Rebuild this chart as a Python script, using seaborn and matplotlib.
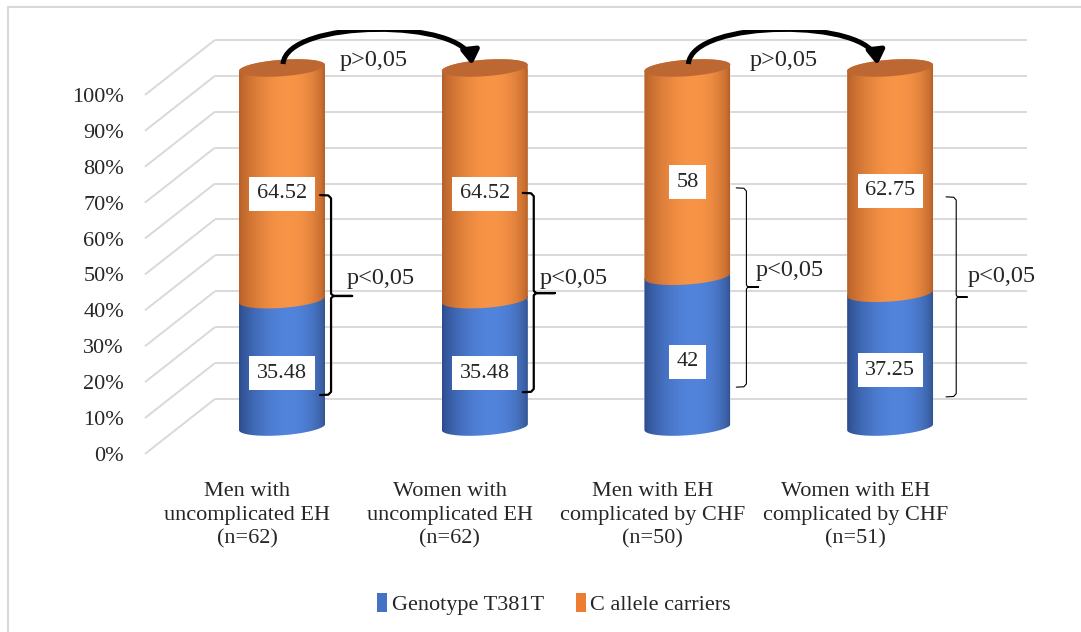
import numpy as np
import pandas as pd
import matplotlib
matplotlib.use("Agg")
import matplotlib.pyplot as plt
import matplotlib.transforms as mtransforms
from matplotlib.patches import Polygon, FancyArrowPatch, Rectangle, Patch
from matplotlib.path import Path
import seaborn as sns

# ---- data -------------------------------------------------------------
groups = [
    "Men with\nuncomplicated EH\n(n=62)",
    "Women with\nuncomplicated EH\n(n=62)",
    "Men with EH\ncomplicated by CHF\n(n=50)",
    "Women with EH\ncomplicated by CHF\n(n=51)",
]
genotype_t381t = [35.48, 35.48, 42, 37.25]
c_allele_carriers = [64.52, 64.52, 58, 62.75]
series_names = ["Genotype T381T", "C allele carriers"]
pct_ticks = list(range(0, 101, 10))

# ---- style ------------------------------------------------------------
sns.set_style("white")
plt.rcParams["font.family"] = ["Liberation Serif", "DejaVu Serif"]

BLUE = "#4472C4"
ORANGE = "#ED7D31"
GRID = "#D9D9D9"
BLUE_SHADE = ((44, 74, 138), (82, 132, 220), (48, 80, 140))
ORANGE_SHADE = ((180, 94, 40), (248, 148, 70), (176, 92, 38))
TOP_FACE = "#BD6833"

W, H = 1081, 632
fig = plt.figure(figsize=(W / 100, H / 100), dpi=100)
fig.patch.set_facecolor("white")
ax = fig.add_axes([140 / W, 172 / H, 890 / W, 430 / H])

df = pd.DataFrame({"group": groups, "t381t": genotype_t381t, "c": c_allele_carriers})
df["total"] = df["t381t"] + df["c"]

BAR_W = 0.424
sns.barplot(data=df, x="group", y="total", color=ORANGE, saturation=1,
            width=BAR_W, errorbar=None, ax=ax, zorder=2)
sns.barplot(data=df, x="group", y="t381t", color=BLUE, saturation=1,
            width=BAR_W, errorbar=None, ax=ax, zorder=2)

XLIM = (-0.7005, 3.690)
YLIM = (-9.19, 110.58)

# ---- perspective grid: back wall + left side wall ------------------------
BACK_RISE = 7.8     # back wall sits higher on screen than the bars
FRONT_DROP = -7.5   # front edge of the side wall sits lower
x_back0, x_back1, x_front = -0.331, 3.675, -0.676
for p in pct_ticks:
    ax.plot([x_back0, x_back1], [p + BACK_RISE, p + BACK_RISE],
            color=GRID, lw=1.4, zorder=0, solid_capstyle="butt")
    ax.plot([x_front, x_back0], [p + FRONT_DROP, p + BACK_RISE],
            color=GRID, lw=1.4, zorder=0, solid_capstyle="butt")

# ---- cylinders built on the seaborn bars ---------------------------------
B_SEMI = 2.3   # ellipse depth (data units)
TILT = 0.85    # perspective tilt of the ellipses


def arc(cx, cy, a, th):
    return np.column_stack([cx + a * np.cos(th),
                            cy + B_SEMI * np.sin(th) + TILT * np.cos(th)])


def shade_img(shade, n=256):
    el, ce, er = (np.array(c, float) / 255 for c in shade)
    u = np.linspace(0, 1, n)
    w = np.sin(np.pi * u ** 1.25) ** 0.6
    edge = np.where((u < 0.57)[:, None], el, er)
    col = edge + (ce - edge) * w[:, None]
    return np.clip(col[None, :, :], 0, 1)


n_groups = len(groups)
orange_bars = ax.patches[:n_groups]
blue_bars = ax.patches[n_groups:2 * n_groups]


def cylinder_segment(bar, shade, z):
    x0 = bar.get_x()
    a = bar.get_width() / 2
    cx = x0 + a
    y0 = bar.get_y()
    y1 = y0 + bar.get_height()
    pts = np.vstack([arc(cx, y0, a, np.linspace(np.pi, 2 * np.pi, 80)),
                     arc(cx, y1, a, np.linspace(0, np.pi, 80))])
    poly = Polygon(pts, closed=True, transform=ax.transData)
    bar.set_clip_path(poly)
    im = ax.imshow(shade_img(shade), extent=(cx - a, cx + a, y0 - B_SEMI - 2, y1 + B_SEMI + 2),
                   aspect="auto", interpolation="bilinear", zorder=z)
    im.set_clip_path(poly)
    return cx, a, y1


for bar in blue_bars:
    cylinder_segment(bar, BLUE_SHADE, 3)

# orange segments start where the blue ones end
for ob, bb in zip(orange_bars, blue_bars):
    ob.set_y(bb.get_height())
    ob.set_height(ob.get_height() - bb.get_height())
for bar in orange_bars:
    cx, a, top = cylinder_segment(bar, ORANGE_SHADE, 4)
    ax.add_patch(Polygon(arc(cx, top, a, np.linspace(0, 2 * np.pi, 160)), closed=True,
                         facecolor=TOP_FACE, edgecolor="none", zorder=5))

# ---- value labels -----------------------------------------------------------
LABEL_DROP = -2.8
box = dict(facecolor="white", edgecolor="none", pad=5.5)
for i, (t, c) in enumerate(zip(genotype_t381t, c_allele_carriers)):
    cx = blue_bars[i].get_x() + blue_bars[i].get_width() / 2
    ax.text(cx, t / 2 + LABEL_DROP, f"{t:g}", ha="center", va="center",
            fontsize=16, bbox=box, zorder=6)
    ax.text(cx, t + c / 2 + LABEL_DROP, f"{c:g}", ha="center", va="center",
            fontsize=16, bbox=box, zorder=6)

# ---- curved arrows between groups (p>0,05) ------------------------------------
arrow_pairs = [(0, 1, 0.286), (2, 3, 2.309)]
for i, j, tx in arrow_pairs:
    verts = [(i + 0.005, 101.1), (i + 0.02, 113.8), (j - 0.09, 113.8), (j - 0.063, 100.8)]
    path = Path(verts, [Path.MOVETO, Path.CURVE4, Path.CURVE4, Path.CURVE4])
    arr = FancyArrowPatch(path=path, arrowstyle="-|>,head_length=0.6,head_width=0.38",
                          mutation_scale=14, lw=3.6, color="black",
                          transform=ax.transData, zorder=7, capstyle="butt")
    ax.add_patch(arr)
    ax.text(tx, 102.2, "p>0,05", ha="left", va="center", fontsize=17.5, zorder=7)

# ---- braces within each group (p<0,05) ----------------------------------------
# (x of brace, top, middle, bottom, hook, tip, lw, text x, text y)
braces = [
    (0.242, 64.6, 36.5, 8.9, 0.054, 0.104, 1.6, 0.321, 41.5),
    (1.242, 65.2, 37.3, 9.7, 0.054, 0.104, 1.6, 1.269, 41.5),
    (2.291, 66.6, 39.0, 11.1, 0.05, 0.06, 0.8, 2.335, 43.7),
    (3.326, 64.1, 36.2, 8.4, 0.05, 0.055, 0.8, 3.380, 41.8),
]
for xv, yt, ym, yb, hook, tip, lw, tx, ty in braces:
    xs = [xv - hook, xv - 0.25 * hook, xv, xv, xv + 0.12 * tip, xv + tip,
          xv + 0.12 * tip, xv, xv, xv - 0.25 * hook, xv - hook]
    ys = [yt, yt - 0.1, yt - 0.9, ym + 0.6, ym, ym,
          ym, ym - 0.6, yb + 0.9, yb + 0.1, yb]
    ax.plot(xs, ys, color="black", lw=lw, zorder=7, solid_joinstyle="round")
    ax.text(tx, ty, "p<0,05", ha="left", va="center", fontsize=17.5, zorder=7)

# ---- axes ---------------------------------------------------------------------
ax.set_xlim(*XLIM)
ax.set_ylim(*YLIM)
for s in ax.spines.values():
    s.set_visible(False)
ax.set_xlabel("")
ax.set_ylabel("")
ax.set_yticks([p + FRONT_DROP for p in pct_ticks], labels=[f"{p}%" for p in pct_ticks])
ax.set_xticks(range(n_groups), labels=groups)
ax.tick_params(axis="y", length=0, pad=11.5, labelsize=16)
ax.tick_params(axis="x", length=0, pad=16, labelsize=16)
shift = mtransforms.ScaledTranslation(-35 / 100, 0, fig.dpi_scale_trans)
for lab in ax.get_xticklabels():
    lab.set_linespacing(1.33)
    lab.set_transform(lab.get_transform() + shift)

# ---- legend -------------------------------------------------------------------
handles = [Patch(facecolor=BLUE, edgecolor="none"), Patch(facecolor=ORANGE, edgecolor="none")]
fig.legend(handles, series_names, loc="center", bbox_to_anchor=(554 / W, 1 - 604 / H),
           ncol=2, frameon=False, fontsize=16, handlelength=0.45, handleheight=0.9,
           handletextpad=0.2, columnspacing=1.45)

# chart area border
fig.patches.append(Rectangle((8 / W, -0.05), 1.1, 1.05 - 7 / H, transform=fig.transFigure,
                             fill=False, edgecolor=GRID, lw=1.5))

fig.savefig("out.png", dpi=100, facecolor="white")
